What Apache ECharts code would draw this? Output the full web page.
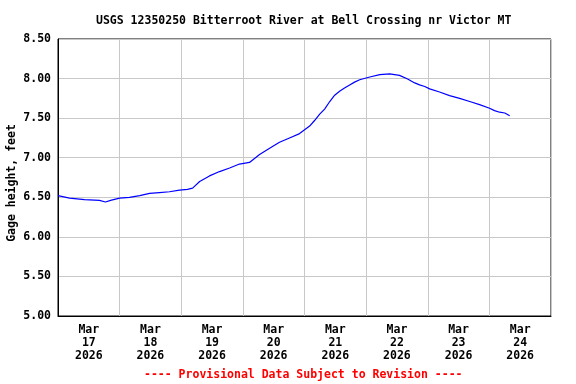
<!DOCTYPE html>
<html>
<head>
<meta charset="utf-8">
<script src="https://cdn.jsdelivr.net/npm/echarts@6/dist/echarts.min.js"></script>
<style>
html,body{margin:0;padding:0;background:#fff;}
#chart{width:576px;height:384px;}
</style>
</head>
<body>
<div id="chart"></div>
<script>
const titleText = 'USGS 12350250 Bitterroot River at Bell Crossing nr Victor MT';
const yAxisName = 'Gage height, feet';
const footnote = '---- Provisional Data Subject to Revision ----';
const dayLabels = ['Mar\n17\n2026','Mar\n18\n2026','Mar\n19\n2026','Mar\n20\n2026','Mar\n21\n2026','Mar\n22\n2026','Mar\n23\n2026','Mar\n24\n2026'];
const yTicks = [5.0, 5.5, 6.0, 6.5, 7.0, 7.5, 8.0, 8.5];
const times = [
 '2026-03-17 00:00','2026-03-17 04:30','2026-03-17 10:20','2026-03-17 16:10','2026-03-17 18:30','2026-03-17 20:50',
 '2026-03-18 00:00','2026-03-18 03:50','2026-03-18 07:50','2026-03-18 11:40','2026-03-18 15:30','2026-03-18 19:25','2026-03-18 23:20',
 '2026-03-19 02:25','2026-03-19 04:25','2026-03-19 07:10','2026-03-19 11:00','2026-03-19 14:55','2026-03-19 18:50','2026-03-19 22:40',
 '2026-03-20 02:35','2026-03-20 06:30','2026-03-20 10:25','2026-03-20 14:15','2026-03-20 18:10','2026-03-20 22:05',
 '2026-03-21 02:00','2026-03-21 03:55','2026-03-21 05:55','2026-03-21 07:50','2026-03-21 09:50','2026-03-21 11:45','2026-03-21 13:40',
 '2026-03-21 15:35','2026-03-21 17:35','2026-03-21 19:30','2026-03-21 21:30',
 '2026-03-22 01:25','2026-03-22 05:20','2026-03-22 09:10','2026-03-22 13:00','2026-03-22 16:10','2026-03-22 18:55','2026-03-22 20:50','2026-03-22 22:50',
 '2026-03-23 00:45','2026-03-23 04:35','2026-03-23 08:30','2026-03-23 12:25','2026-03-23 16:20','2026-03-23 20:10',
 '2026-03-24 00:05','2026-03-24 02:00','2026-03-24 04:00','2026-03-24 06:00','2026-03-24 07:55'
];
const gageHeight = [
 6.52,6.49,6.47,6.46,6.44,6.465,
 6.49,6.50,6.52,6.55,6.56,6.57,6.59,
 6.60,6.615,6.70,6.77,6.825,6.87,6.92,
 6.94,7.04,7.12,7.195,7.25,7.305,
 7.40,7.47,7.55,7.615,7.71,7.79,7.84,
 7.88,7.92,7.955,7.985,
 8.02,8.05,8.06,8.04,7.995,7.945,7.92,7.90,
 7.87,7.83,7.785,7.75,7.71,7.67,
 7.625,7.595,7.575,7.565,7.53
];

const FONT = '"DejaVu Sans Mono", "Liberation Mono", monospace';
const chart = echarts.init(document.getElementById('chart'), null, {renderer:'canvas'});
chart.setOption({
  animation: false,
  backgroundColor: '#ffffff',
  title: {
    text: titleText,
    left: 96, top: 15, padding: 0,
    textStyle: {fontFamily: FONT, fontSize: 11.5, fontWeight: 'bold', color: '#000', lineHeight: 13}
  },
  graphic: [{
    type: 'text', left: 144, top: 369,
    style: {text: footnote, fill: '#ff0000', font: 'bold 11.5px ' + FONT}
  }, {
    type: 'text', x: 12, y: 183, rotation: Math.PI / 2,
    style: {text: yAxisName, fill: '#000', font: 'bold 11.5px ' + FONT, align: 'center', verticalAlign: 'middle'}
  }],
  grid: {left: 58, top: 39, right: 25, bottom: 68, containLabel: false, outerBoundsMode: 'none',
         show: true, borderColor: '#000', borderWidth: 1, backgroundColor: '#fff'},
  xAxis: [{
    type: 'category', data: dayLabels, boundaryGap: true, position: 'bottom',
    axisLine: {show: true, lineStyle: {color: '#000', width: 1}},
    axisTick: {show: false},
    axisLabel: {interval: 0, margin: 8, color: '#000', fontFamily: FONT, fontSize: 11.5, fontWeight: 'bold', lineHeight: 12.8, align: 'center'},
    splitLine: {show: true, interval: 0, lineStyle: {color: '#c8c8c8', width: 1}}
  }, {
    type: 'time', min: '2026-03-17 00:00', max: '2026-03-25 00:00', show: false,
    splitLine: {show: false}
  }],
  yAxis: {
    type: 'value', min: yTicks[0], max: yTicks[yTicks.length-1], interval: 0.5,
    axisLine: {show: true, lineStyle: {color: '#000'}},
    axisTick: {show: false},
    axisLabel: {margin: 7, color: '#000', fontFamily: FONT, fontSize: 11.5, fontWeight: 'bold', formatter: v => v.toFixed(2)},
    splitLine: {show: true, lineStyle: {color: '#c8c8c8', width: 1}}
  },
  series: [{
    type: 'line', xAxisIndex: 1, showSymbol: false, symbol: 'none',
    lineStyle: {color: '#0000ff', width: 1.2},
    data: times.map((t, i) => [t, gageHeight[i]])
  }]
});
</script>
</body>
</html>
